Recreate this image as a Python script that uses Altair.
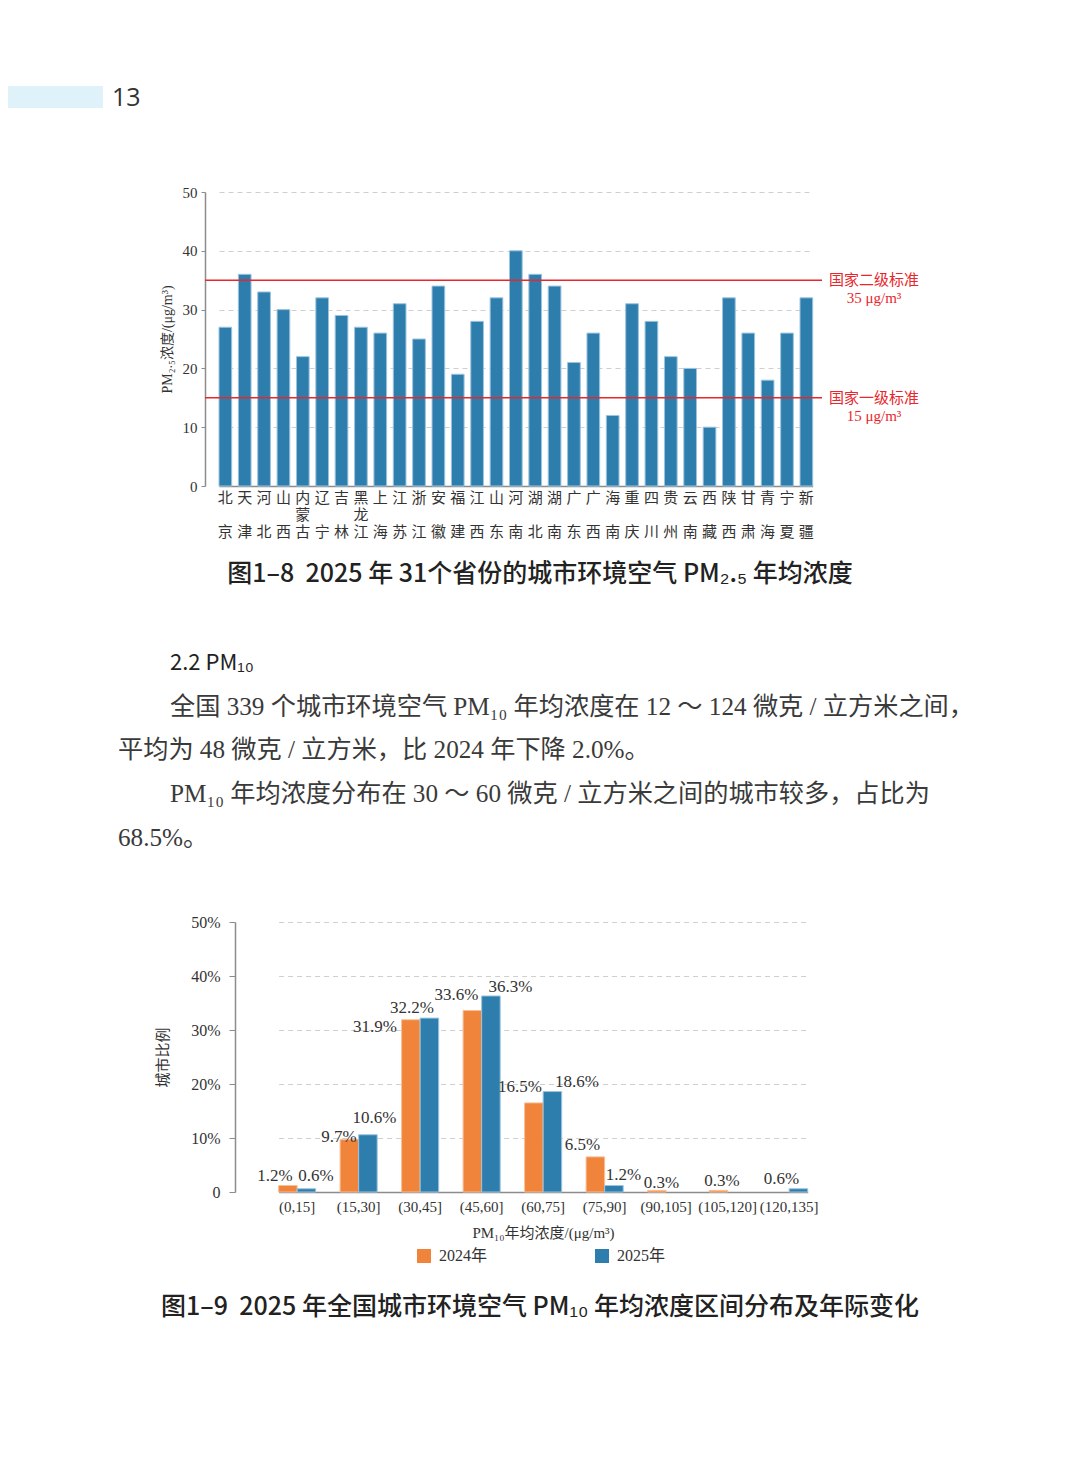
import altair as alt
import pandas as pd

# ---------------- data ----------------
provinces = ["北京", "天津", "河北", "山西", "内蒙古", "辽宁", "吉林", "黑龙江", "上海", "江苏",
             "浙江", "安徽", "福建", "江西", "山东", "河南", "湖北", "湖南", "广东", "广西",
             "海南", "重庆", "四川", "贵州", "云南", "西藏", "陕西", "甘肃", "青海", "宁夏", "新疆"]
pm25 = [27, 36, 33, 30, 22, 32, 29, 27, 26, 31,
        25, 34, 19, 28, 32, 40, 36, 34, 21, 26,
        12, 31, 28, 22, 20, 10, 32, 26, 18, 26, 32]
std_values = [35, 15]
std_names = ["国家二级标准", "国家一级标准"]
std_units = ["35 μg/m³", "15 μg/m³"]
pm25_ticks = [0, 10, 20, 30, 40, 50]

bins = ["(0,15]", "(15,30]", "(30,45]", "(45,60]", "(60,75]", "(75,90]", "(90,105]", "(105,120]", "(120,135]"]
years = ["2024年", "2025年"]
share_2024 = [1.2, 9.7, 31.9, 33.6, 16.5, 6.5, 0.3, 0.3, 0]
share_2025 = [0.6, 10.6, 32.2, 36.3, 18.6, 1.2, 0, 0, 0.6]
share_ticks = [0, 10, 20, 30, 40, 50]

page_no = "13"
caption1 = "图1–8\u00a0 2025 年 31个省份的城市环境空气 PM₂.₅ 年均浓度"
heading = "2.2 PM₁₀"
body_lines = [
    "全国 339 个城市环境空气 PM₁₀ 年均浓度在 12 ～ 124 微克 / 立方米之间，",
    "平均为 48 微克 / 立方米，比 2024 年下降 2.0%。",
    "PM₁₀ 年均浓度分布在 30 ～ 60 微克 / 立方米之间的城市较多，占比为",
    "68.5%。",
]
caption2 = "图1–9\u00a0 2025 年全国城市环境空气 PM₁₀ 年均浓度区间分布及年际变化"

# label nudges (pixels, relative to the top-centre of each bar) as in the original layout
nudge_x_2024 = [-13, -10.5, -36, -16, -14, -13, 4.5, 3.5, 0]
nudge_y_2024 = [-9.5, -2.6, 7.3, -15.6, -16, -12, -7.4, -9.4, 0]
nudge_x_2025 = [9.5, 6.5, -17.5, 19.5, 24.5, 9.5, 0, 0, -17]
nudge_y_2025 = [-12.8, -16.8, -10, -9, -9.6, -10.5, 0, 0, -9.8]

# ---------------- style ----------------
BLUE = "#2E7EAD"
BLUE_EDGE = "#9cc4de"
ORANGE = "#F0843A"
ORANGE_EDGE = "#f8bf97"
RED = "#E8262B"
TXT = "#333333"
AXIS = "#8c8c8c"
GRID = "#cfcfcf"
SERIF = "Liberation Serif, Noto Sans CJK SC, serif"
SANS = "Noto Sans CJK SC, sans-serif"
PAGE_W = 1064

one = pd.DataFrame({"k": [0]})


def anchor(left, top, bottom):
    return alt.Chart(one).mark_rect(opacity=0).encode(
        x=alt.value(left), x2=alt.value(left + 1),
        y=alt.value(top), y2=alt.value(bottom))


def text_at(x, y, s, size, font, weight="normal", align="left", color=TXT):
    return alt.Chart(one).mark_text(
        text=s, fontSize=size, font=font, fontWeight=weight,
        align=align, baseline="middle", color=color
    ).encode(x=alt.value(x), y=alt.value(y))


def shifted(chart):
    spacer = alt.Chart(one).mark_rect(opacity=0).encode(
        x=alt.value(0), x2=alt.value(1), y=alt.value(0), y2=alt.value(1)
    ).properties(width=1, height=1)
    return alt.hconcat(spacer, chart, spacing=0).resolve_legend(color="independent")


# ---------------- header panel ----------------
header = alt.layer(
    anchor(0, 0, 142),
    alt.Chart(one).mark_rect(color="#DFF2FA").encode(
        x=alt.value(0), x2=alt.value(95), y=alt.value(78), y2=alt.value(100)),
    text_at(104, 90, page_no, 25, "Open Sans, Noto Sans, sans-serif", color="#333"),
).properties(width=PAGE_W, height=142)

# ---------------- chart 1 ----------------
W1, H1 = 617, 294
df1 = pd.DataFrame({"province": provinces, "value": pm25})
df_std = pd.DataFrame({"value": std_values, "name": std_names, "unit": std_units})

xs1 = alt.Scale(domain=provinces, range=[14, 607.7], paddingInner=0.345, paddingOuter=0)
ys1 = alt.Scale(domain=[0, 50], nice=False)

x1_axis = alt.Axis(title=None, labels=False, ticks=False,
                   domainColor=AXIS, domainWidth=1.5, grid=False)
y1_axis = alt.Axis(values=pm25_ticks, title="PM₂.₅浓度/(μg/m³)", titleFont=SERIF, titleFontSize=14,
                   titleFontWeight="normal", titleColor=TXT, titleX=-38, titleY=H1 / 2,
                   titleAlign="center", titleBaseline="middle", titleAngle=270,
                   labelFont=SERIF, labelFontSize=15, labelColor=TXT, labelPadding=4,
                   tickSize=4, tickColor=AXIS, domainColor=AXIS, domainWidth=1.5,
                   grid=True, gridColor=GRID, gridDash=[5, 4], gridWidth=1)

bars1 = alt.Chart(df1).mark_bar(color=BLUE, stroke=BLUE_EDGE, strokeWidth=1).encode(
    x=alt.X("province:N", sort=None, scale=xs1, axis=x1_axis),
    y=alt.Y("value:Q", scale=ys1, axis=y1_axis),
)

# province names written vertically: first char, middle char (3-char names only), last char
name_rows = alt.Chart(df1).transform_calculate(
    r1="substring(datum.province, 0, 1)",
    r2="length(datum.province) == 3 ? substring(datum.province, 1, 2) : ''",
    r3="substring(datum.province, length(datum.province) - 1, length(datum.province))",
)
row_layers = [
    name_rows.mark_text(font=SANS, fontSize=15, color=TXT, baseline="middle").encode(
        x=alt.X("province:N", sort=None, scale=xs1),
        y=alt.value(H1 + 12 + 17 * i),
        text=f"{f}:N",
    )
    for i, f in enumerate(["r1", "r2", "r3"])
]

std_rule = alt.Chart(df_std).mark_rule(color=RED, strokeWidth=1.5).encode(
    y=alt.Y("value:Q", scale=ys1))
std_name = alt.Chart(df_std).mark_text(color=RED, font=SANS, fontSize=15, align="center",
                                       baseline="middle").encode(
    x=alt.value(669), y=alt.Y("value:Q", scale=ys1), text="name:N")
std_unit = alt.Chart(df_std).mark_text(color=RED, font=SERIF, fontSize=15, align="center",
                                       baseline="middle", dy=18).encode(
    x=alt.value(669), y=alt.Y("value:Q", scale=ys1), text="unit:N")

chart1 = alt.layer(
    anchor(-196, -42, 356), bars1, *row_layers, std_rule, std_name, std_unit
).properties(width=W1, height=H1)

# ---------------- text panel ----------------
text_panel = alt.layer(
    anchor(0, 0, 332),
    text_at(532, 26, caption1, 25, SANS, weight=500, align="center", color="#222"),
    text_at(162, 115, heading, 22, SANS, color="#222"),
    text_at(162, 159, body_lines[0], 25.2, SERIF, color="#3a3a3a"),
    text_at(110, 202, body_lines[1], 25.2, SERIF, color="#3a3a3a"),
    text_at(162, 246, body_lines[2], 25.2, SERIF, color="#3a3a3a"),
    text_at(110, 290, body_lines[3], 25.2, SERIF, color="#3a3a3a"),
).properties(width=PAGE_W, height=332)

# ---------------- chart 2 ----------------
W2, H2 = 668, 270
df2 = pd.DataFrame({
    "bin": bins * 2,
    "year": [years[0]] * len(bins) + [years[1]] * len(bins),
    "value": share_2024 + share_2025,
    "ldx": nudge_x_2024 + nudge_x_2025,
    "ldy": nudge_y_2024 + nudge_y_2025,
})
xs2 = alt.Scale(domain=bins, range=[43.6, 572.7], paddingInner=0.397, paddingOuter=0)
ys2 = alt.Scale(domain=[0, 50], nice=False)
xo2 = alt.Scale(domain=years, paddingInner=0, paddingOuter=0)

x2_axis = alt.Axis(title="PM₁₀年均浓度/(μg/m³)", titleFont=SERIF, titleFontSize=15,
                   titleFontWeight="normal", titleColor=TXT, titleX=308, titleY=40,
                   titleAlign="center", titleBaseline="middle",
                   labelAngle=0, labelFont=SERIF, labelFontSize=15, labelColor=TXT,
                   labelBaseline="top", labelPadding=7, labelOverlap=False, ticks=False,
                   domainColor=AXIS, domainWidth=1.5, grid=False)
y2_axis = alt.Axis(values=share_ticks, labelExpr="datum.value == 0 ? '0' : datum.value + '%'",
                   title="城市比例", titleFont=SANS, titleFontSize=15, titleFontWeight="normal",
                   titleColor=TXT, titleX=-73, titleY=H2 / 2, titleAlign="center",
                   titleBaseline="middle", titleAngle=270,
                   labelFont=SERIF, labelFontSize=16, labelColor=TXT, labelPadding=9,
                   tickSize=6, tickColor=AXIS, domainColor=AXIS, domainWidth=1.5,
                   grid=True, gridColor=GRID, gridDash=[5, 4], gridWidth=1)

bars2 = alt.Chart(df2).transform_filter("datum.value > 0").mark_bar(strokeWidth=1).encode(
    x=alt.X("bin:N", sort=None, scale=xs2, axis=x2_axis),
    xOffset=alt.XOffset("year:N", sort=None, scale=xo2),
    y=alt.Y("value:Q", scale=ys2, axis=y2_axis),
    color=alt.Color("year:N", sort=None, scale=alt.Scale(domain=years, range=[ORANGE, BLUE]),
                    legend=alt.Legend(title=None, orient="none", legendX=181, legendY=326,
                                      direction="horizontal", symbolType="square", symbolSize=196,
                                      symbolStrokeWidth=0, labelFont=SERIF, labelFontSize=16,
                                      labelColor=TXT, labelOffset=7, columnPadding=106, padding=0)),
    stroke=alt.Stroke("year:N", sort=None, scale=alt.Scale(domain=years, range=[ORANGE_EDGE, BLUE_EDGE]),
                      legend=None),
)

labels2 = alt.Chart(df2).transform_filter(
    "datum.value > 0"
).transform_calculate(
    lbl="format(datum.value, '.1f') + '%'"
).mark_text(align="center", baseline="middle", dx={"expr": "datum.ldx"}, dy={"expr": "datum.ldy"},
            font=SERIF, fontSize=17, color=TXT).encode(
    x=alt.X("bin:N", sort=None, scale=xs2),
    xOffset=alt.XOffset("year:N", sort=None, scale=xo2),
    y=alt.Y("value:Q", scale=ys2),
    text="lbl:N",
)

chart2 = alt.layer(
    anchor(-226, -42, 358), bars2, labels2,
).properties(width=W2, height=H2)

# ---------------- caption 2 ----------------
cap2_panel = alt.layer(
    anchor(0, 0, 60),
    text_at(532, 27, caption2, 25, SANS, weight=500, align="center", color="#222"),
).properties(width=PAGE_W, height=60)

chart = alt.vconcat(
    header, shifted(chart1), text_panel, shifted(chart2), cap2_panel, spacing=0
).resolve_legend(color="independent", stroke="independent").properties(padding=0).configure_view(stroke=None)

chart.save("out.html", embed_options={"renderer": "svg", "actions": False})
